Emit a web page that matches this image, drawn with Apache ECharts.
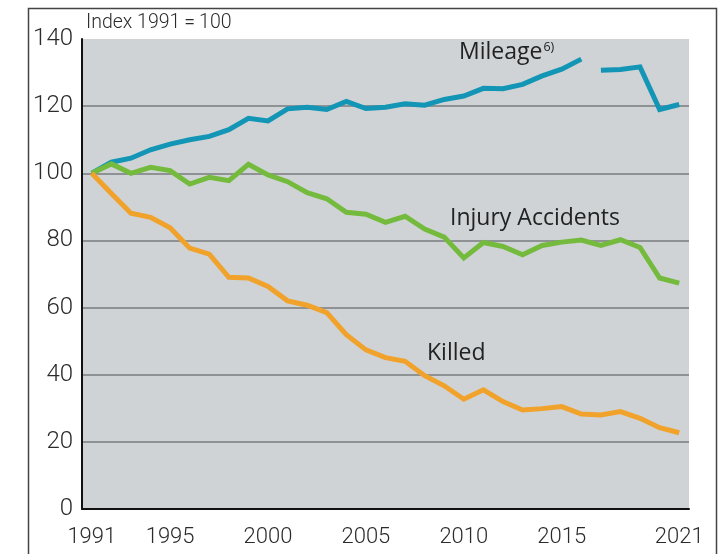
<!DOCTYPE html>
<html>
<head>
<meta charset="utf-8">
<script src="https://cdn.jsdelivr.net/npm/echarts@6/dist/echarts.min.js"></script>
<style>
  html, body { margin: 0; padding: 0; background: #fff; }
</style>
</head>
<body>
<div id="chart" style="width: 723px; height: 554px"></div>
<script>
const years = []
for (let y = 1991; y <= 2021; y++) years.push(String(y))
const shownYears = ['1991', '1995', '2000', '2005', '2010', '2015', '2021']

// index 1991 = 100
const mileageTo2016 = [100, 103.3, 104.5, 107, 108.7, 110, 111, 113, 116.4, 115.6,
  119.2, 119.7, 119, 121.4, 119.3, 119.7, 120.7, 120.3, 122, 123,
  125.3, 125.2, 126.5, 129, 131, 134]
const mileageFrom2017 = [130.7, 130.9, 131.7, 119, 120.5]
const injuryAccidents = [100, 102.8, 100, 101.8, 100.8, 96.8, 98.8, 97.8, 102.7, 99.5,
  97.5, 94.2, 92.4, 88.4, 87.8, 85.4, 87.2, 83.4, 81, 74.8,
  79.4, 78.2, 75.7, 78.5, 79.5, 80.1, 78.5, 80.2, 77.9, 68.8, 67.3]
const killed = [100, 94, 88.1, 86.9, 83.8, 77.7, 75.9, 69, 68.8, 66.3,
  62, 60.7, 58.5, 51.9, 47.4, 45.1, 44, 39.7, 36.7, 32.7,
  35.5, 32, 29.5, 29.9, 30.5, 28.3, 28, 29, 27, 24.2, 22.7]

const gapAfter = years.length - mileageTo2016.length
const gapBefore = years.length - mileageFrom2017.length

const tickFont = { fontFamily: 'Roboto', fontWeight: 300, color: '#2b2b2b' }
const labelFont = 'Open Sans'

const lineSeries = (name, data, color) => ({
  name,
  type: 'line',
  data,
  showSymbol: false,
  connectNulls: false,
  lineStyle: { color, width: 5, join: 'miter' },
  itemStyle: { color },
  silent: true
})

const option = {
  animation: false,
  backgroundColor: '#fff',
  grid: {
    left: 82,
    right: 34,
    top: 39,
    bottom: 45,
    show: true,
    backgroundColor: '#cfd3d6',
    borderWidth: 0
  },
  xAxis: {
    type: 'category',
    data: years,
    boundaryGap: true,
    axisLine: { lineStyle: { color: '#111', width: 2 } },
    axisTick: {
      alignWithLabel: true,
      interval: 0,
      length: 11,
      lineStyle: { color: '#111', width: 1.5 }
    },
    axisLabel: {
      ...tickFont,
      fontSize: 22,
      margin: 17,
      interval: (idx, val) => shownYears.includes(val)
    },
    splitLine: { show: false }
  },
  yAxis: {
    type: 'value',
    min: 0,
    max: 140,
    interval: 20,
    axisLine: { show: true, lineStyle: { color: '#111', width: 2 } },
    axisTick: { show: false },
    axisLabel: { ...tickFont, fontSize: 24, margin: 9, padding: [6, 0, 0, 0] },
    splitLine: {
      show: true,
      showMinLine: false,
      showMaxLine: false,
      lineStyle: { color: '#7a7c7e', width: 1.5 }
    }
  },
  series: [
    lineSeries('Mileage', mileageTo2016.concat(Array(gapAfter).fill(null)), '#1396b6'),
    lineSeries('Mileage', Array(gapBefore).fill(null).concat(mileageFrom2017), '#1396b6'),
    lineSeries('Injury Accidents', injuryAccidents, '#74bb3d'),
    lineSeries('Killed', killed, '#f1a22b')
  ],
  graphic: [
    {
      type: 'rect',
      left: 26,
      top: 6,
      shape: { width: 688, height: 580 },
      style: { fill: 'none', stroke: '#444', lineWidth: 1.5 },
      silent: true
    },
    {
      type: 'text',
      left: 86,
      top: 13,
      style: {
        text: 'Index 1991\u2009=\u2009100',
        font: '300 19.5px Roboto',
        fill: '#2b2b2b'
      }
    },
    {
      type: 'text',
      left: 459,
      top: 41,
      style: {
        text: '{a|Mileage}{s|6)}',
        rich: {
          a: { fontFamily: labelFont, fontSize: 23, fill: '#222' },
          s: { fontFamily: labelFont, fontSize: 12.5, fill: '#222', verticalAlign: 'top', padding: [0, 0, 8, 1] }
        }
      }
    },
    {
      type: 'text',
      left: 450,
      top: 207,
      style: { text: 'Injury Accidents', font: '23px "Open Sans"', fill: '#222' }
    },
    {
      type: 'text',
      left: 427,
      top: 342,
      style: { text: 'Killed', font: '23px "Open Sans"', fill: '#222' }
    }
  ]
}

const myChart = echarts.init(document.getElementById('chart'))
myChart.setOption(option)
window.addEventListener('resize', () => {
  myChart.resize()
})
</script>
</body>
</html>
